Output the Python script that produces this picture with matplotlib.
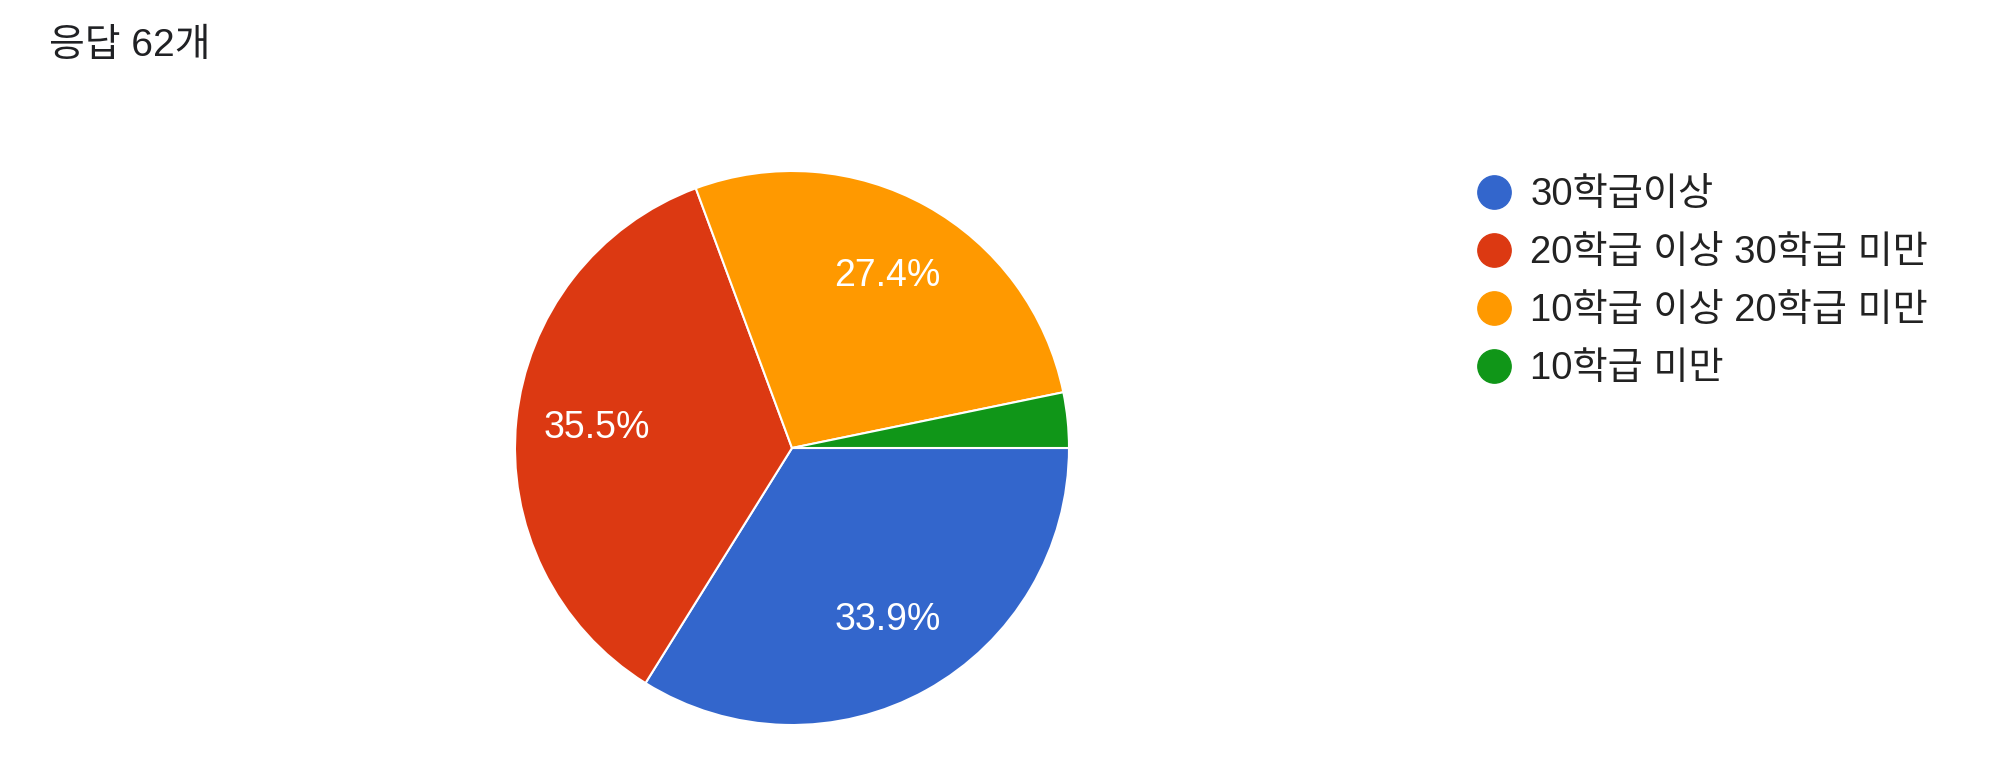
import matplotlib
matplotlib.use("Agg")
import matplotlib.pyplot as plt
from matplotlib.lines import Line2D

plt.rcParams['font.family'] = ['Liberation Sans', 'Noto Sans CJK KR', 'DejaVu Sans']

title = "응답 62개"
categories = ["30학급이상", "20학급 이상 30학급 미만", "10학급 이상 20학급 미만", "10학급 미만"]
counts = [21, 22, 17, 2]
colors = ["#3366CC", "#DC3912", "#FF9900", "#109618"]

W, H = 2000, 768
fig = plt.figure(figsize=(W / 100, H / 100), dpi=100)
fig.patch.set_facecolor("white")

cx, cy, r = 792, 448, 277
ax = fig.add_axes([(cx - r) / W, (H - cy - r) / H, 2 * r / W, 2 * r / H])

def fmt(p):
    return f"{p:.1f}%" if p >= 5 else ""

wedges, texts, autotexts = ax.pie(
    counts, colors=colors, startangle=0, counterclock=False,
    autopct=fmt, pctdistance=0.71,
    wedgeprops=dict(edgecolor="white", linewidth=1.5),
    textprops=dict(color="white", fontsize=27),
    radius=1.0,
)
ax.set_xlim(-1.0, 1.0)
ax.set_ylim(-1.0, 1.0)
ax.set_aspect("equal")
ax.axis("off")

fig.text(49 / W, 1 - 46 / H, title, fontsize=28, color="#202124", va="center", ha="left")

handles = [Line2D([], [], linestyle="none", marker="o", markersize=24,
                  markerfacecolor=c, markeredgecolor=c) for c in colors]
leg = fig.legend(handles, categories, loc="upper left",
                 bbox_to_anchor=(1477 / W, 1 - 177 / H),
                 frameon=False, fontsize=27.5, labelspacing=0.58,
                 handlelength=0.9, handletextpad=0.5, borderaxespad=0,
                 borderpad=0)
for t in leg.get_texts():
    t.set_color("#222222")

fig.savefig("out.png", dpi=100, facecolor="white")
